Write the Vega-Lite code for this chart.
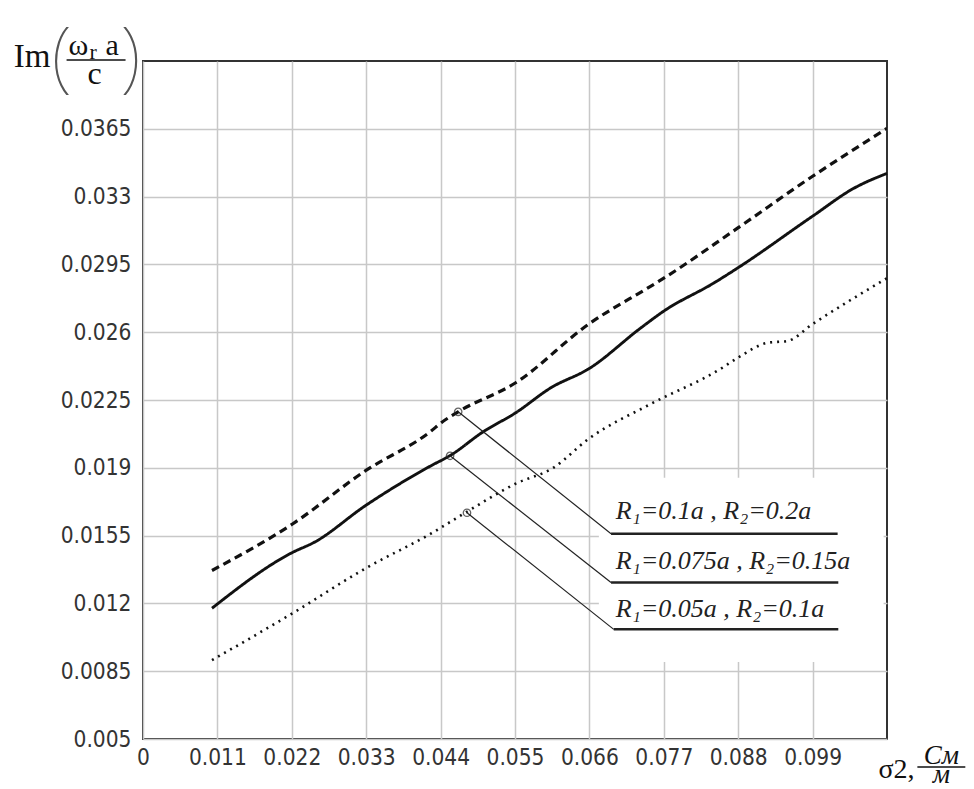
{
  "$schema": "https://vega.github.io/schema/vega-lite/v6.json",
  "autosize": {"type": "none"},
  "width": 744,
  "height": 678,
  "padding": {"left": 143, "top": 61, "right": 87, "bottom": 50},
  "background": "white",
  "config": {
    "view": {"stroke": "#333333", "strokeWidth": 2},
    "axis": {
      "labelFont": "DejaVu Sans Condensed",
      "labelFontSize": 22.5,
      "labelColor": "#333333",
      "ticks": false,
      "domain": false,
      "grid": true,
      "gridColor": "#c8c8c8",
      "gridWidth": 1.5
    }
  },
  "datasets": {
    "curves": [
      {"s": "R1=0.1a, R2=0.2a", "x": 0.0102, "y": 0.0137},
      {"s": "R1=0.1a, R2=0.2a", "x": 0.0221, "y": 0.0161},
      {"s": "R1=0.1a, R2=0.2a", "x": 0.0329, "y": 0.01885},
      {"s": "R1=0.1a, R2=0.2a", "x": 0.0426, "y": 0.0209},
      {"s": "R1=0.1a, R2=0.2a", "x": 0.0441, "y": 0.02133},
      {"s": "R1=0.1a, R2=0.2a", "x": 0.0466, "y": 0.02189},
      {"s": "R1=0.1a, R2=0.2a", "x": 0.0551, "y": 0.02339},
      {"s": "R1=0.1a, R2=0.2a", "x": 0.0659, "y": 0.02642},
      {"s": "R1=0.1a, R2=0.2a", "x": 0.0751, "y": 0.02838},
      {"s": "R1=0.1a, R2=0.2a", "x": 0.077, "y": 0.02879},
      {"s": "R1=0.1a, R2=0.2a", "x": 0.0879, "y": 0.03137},
      {"s": "R1=0.1a, R2=0.2a", "x": 0.099, "y": 0.03405},
      {"s": "R1=0.1a, R2=0.2a", "x": 0.11, "y": 0.03652},
      {"s": "R1=0.075a, R2=0.15a", "x": 0.0102, "y": 0.01175},
      {"s": "R1=0.075a, R2=0.15a", "x": 0.0221, "y": 0.01463},
      {"s": "R1=0.075a, R2=0.15a", "x": 0.0253, "y": 0.01515},
      {"s": "R1=0.075a, R2=0.15a", "x": 0.0329, "y": 0.01705},
      {"s": "R1=0.075a, R2=0.15a", "x": 0.0426, "y": 0.01911},
      {"s": "R1=0.075a, R2=0.15a", "x": 0.0454, "y": 0.01963},
      {"s": "R1=0.075a, R2=0.15a", "x": 0.0503, "y": 0.02086},
      {"s": "R1=0.075a, R2=0.15a", "x": 0.0551, "y": 0.02184},
      {"s": "R1=0.075a, R2=0.15a", "x": 0.0603, "y": 0.02313},
      {"s": "R1=0.075a, R2=0.15a", "x": 0.0659, "y": 0.02411},
      {"s": "R1=0.075a, R2=0.15a", "x": 0.0736, "y": 0.02622},
      {"s": "R1=0.075a, R2=0.15a", "x": 0.077, "y": 0.02709},
      {"s": "R1=0.075a, R2=0.15a", "x": 0.0844, "y": 0.02854},
      {"s": "R1=0.075a, R2=0.15a", "x": 0.0879, "y": 0.02931},
      {"s": "R1=0.075a, R2=0.15a", "x": 0.099, "y": 0.03199},
      {"s": "R1=0.075a, R2=0.15a", "x": 0.1051, "y": 0.03343},
      {"s": "R1=0.075a, R2=0.15a", "x": 0.11, "y": 0.0342},
      {"s": "R1=0.05a, R2=0.1a", "x": 0.0102, "y": 0.00907},
      {"s": "R1=0.05a, R2=0.1a", "x": 0.0221, "y": 0.01149},
      {"s": "R1=0.05a, R2=0.1a", "x": 0.0329, "y": 0.01381},
      {"s": "R1=0.05a, R2=0.1a", "x": 0.0426, "y": 0.01561},
      {"s": "R1=0.05a, R2=0.1a", "x": 0.0477, "y": 0.01669},
      {"s": "R1=0.05a, R2=0.1a", "x": 0.0551, "y": 0.01818},
      {"s": "R1=0.05a, R2=0.1a", "x": 0.0607, "y": 0.01901},
      {"s": "R1=0.05a, R2=0.1a", "x": 0.0659, "y": 0.0205},
      {"s": "R1=0.05a, R2=0.1a", "x": 0.0751, "y": 0.0223},
      {"s": "R1=0.05a, R2=0.1a", "x": 0.0854, "y": 0.02411},
      {"s": "R1=0.05a, R2=0.1a", "x": 0.0879, "y": 0.02467},
      {"s": "R1=0.05a, R2=0.1a", "x": 0.0923, "y": 0.02545},
      {"s": "R1=0.05a, R2=0.1a", "x": 0.0953, "y": 0.02555},
      {"s": "R1=0.05a, R2=0.1a", "x": 0.099, "y": 0.02642},
      {"s": "R1=0.05a, R2=0.1a", "x": 0.11, "y": 0.02879}
    ],
    "notes": [
      {"label": "R₁=0.1a , R₂=0.2a", "cx": 0.0466, "cy": 0.02189, "ex": 0.0692, "ey": 0.0156, "ux": 0.1027, "tx": 0.0699, "ty": 0.01638},
      {"label": "R₁=0.075a , R₂=0.15a", "cx": 0.0454, "cy": 0.01962, "ex": 0.0692, "ey": 0.01308, "ux": 0.1028, "tx": 0.0699, "ty": 0.0138},
      {"label": "R₁=0.05a , R₂=0.1a", "cx": 0.0479, "cy": 0.01668, "ex": 0.0696, "ey": 0.01066, "ux": 0.1028, "tx": 0.0699, "ty": 0.01128}
    ]
  },
  "layer": [
    {
      "data": {"values": [{}]},
      "mark": {"type": "rect", "fill": "white", "stroke": null},
      "encoding": {
        "x": {"datum": 0.0674, "type": "quantitative", "scale": {"domain": [0, 0.11], "nice": false, "zero": false}, "axis": {"values": [0, 0.011, 0.022, 0.033, 0.044, 0.055, 0.066, 0.077, 0.088, 0.099], "format": ".3~f", "title": null, "labelPadding": 7, "labelFlush": false}},
        "x2": {"datum": 0.1095},
        "y": {"datum": 0.01849, "type": "quantitative", "scale": {"domain": [0.005, 0.04], "nice": false, "zero": false}, "axis": {"values": [0.005, 0.0085, 0.012, 0.0155, 0.019, 0.0225, 0.026, 0.0295, 0.033, 0.0365], "format": ".4~f", "title": null, "labelPadding": 12}},
        "y2": {"datum": 0.00897}
      }
    },
    {
      "data": {"name": "curves"},
      "mark": {"type": "line", "color": "#111111", "strokeCap": "butt", "interpolate": "monotone"},
      "encoding": {
        "x": {"field": "x", "type": "quantitative"},
        "y": {"field": "y", "type": "quantitative"},
        "detail": {"field": "s", "type": "nominal"},
        "strokeDash": {"field": "s", "type": "nominal", "legend": null, "scale": {"domain": ["R1=0.1a, R2=0.2a", "R1=0.075a, R2=0.15a", "R1=0.05a, R2=0.1a"], "range": [[8, 5], [1, 0], [2, 5]]}},
        "strokeWidth": {"field": "s", "type": "nominal", "legend": null, "scale": {"domain": ["R1=0.1a, R2=0.2a", "R1=0.075a, R2=0.15a", "R1=0.05a, R2=0.1a"], "range": [3.2, 2.6, 2.6]}}
      }
    },
    {
      "data": {"name": "notes"},
      "mark": {"type": "rule", "color": "#222222", "strokeWidth": 1.2},
      "encoding": {
        "x": {"field": "cx", "type": "quantitative"},
        "y": {"field": "cy", "type": "quantitative"},
        "x2": {"field": "ex"},
        "y2": {"field": "ey"}
      }
    },
    {
      "data": {"name": "notes"},
      "mark": {"type": "rule", "color": "#222222", "strokeWidth": 2.5},
      "encoding": {
        "x": {"field": "ex", "type": "quantitative"},
        "x2": {"field": "ux"},
        "y": {"field": "ey", "type": "quantitative"}
      }
    },
    {
      "data": {"name": "notes"},
      "mark": {"type": "point", "shape": "circle", "filled": false, "size": 55, "color": "#222222", "strokeWidth": 1.3},
      "encoding": {
        "x": {"field": "cx", "type": "quantitative"},
        "y": {"field": "cy", "type": "quantitative"}
      }
    },
    {
      "data": {"name": "notes"},
      "mark": {"type": "text", "align": "left", "baseline": "alphabetic", "font": "Liberation Serif", "fontStyle": "italic", "fontSize": 26, "color": "#222222"},
      "encoding": {
        "x": {"field": "tx", "type": "quantitative"},
        "y": {"field": "ty", "type": "quantitative"},
        "text": {"field": "label"}
      }
    },
    {
      "data": {"values": [{}]},
      "mark": {"type": "text", "align": "left", "baseline": "alphabetic", "font": "Liberation Serif", "fontSize": 33, "color": "#111111"},
      "encoding": {"x": {"datum": -0.01912, "type": "quantitative"}, "y": {"datum": 0.03969, "type": "quantitative"}, "text": {"value": "Im"}}
    },
    {
      "data": {"values": [{}]},
      "mark": {"type": "text", "align": "center", "baseline": "alphabetic", "font": "Noto Sans", "fontWeight": 100, "fontSize": 78, "color": "#555555"},
      "encoding": {"x": {"datum": -0.01203, "type": "quantitative"}, "y": {"datum": 0.03887, "type": "quantitative"}, "text": {"value": "("}}
    },
    {
      "data": {"values": [{}]},
      "mark": {"type": "text", "align": "center", "baseline": "alphabetic", "font": "Noto Sans", "fontWeight": 100, "fontSize": 78, "color": "#555555"},
      "encoding": {"x": {"datum": -0.00184, "type": "quantitative"}, "y": {"datum": 0.03887, "type": "quantitative"}, "text": {"value": ")"}}
    },
    {
      "data": {"values": [{}]},
      "mark": {"type": "text", "align": "left", "baseline": "alphabetic", "font": "Liberation Serif", "fontSize": 30, "color": "#111111"},
      "encoding": {"x": {"datum": -0.011, "type": "quantitative"}, "y": {"datum": 0.04031, "type": "quantitative"}, "text": {"value": "ω"}}
    },
    {
      "data": {"values": [{}]},
      "mark": {"type": "text", "align": "left", "baseline": "alphabetic", "font": "Liberation Serif", "fontSize": 22, "color": "#111111"},
      "encoding": {"x": {"datum": -0.0079, "type": "quantitative"}, "y": {"datum": 0.0401, "type": "quantitative"}, "text": {"value": "r"}}
    },
    {
      "data": {"values": [{}]},
      "mark": {"type": "text", "align": "left", "baseline": "alphabetic", "font": "Liberation Serif", "fontSize": 30, "color": "#111111"},
      "encoding": {"x": {"datum": -0.00554, "type": "quantitative"}, "y": {"datum": 0.04031, "type": "quantitative"}, "text": {"value": "a"}}
    },
    {
      "data": {"values": [{}]},
      "mark": {"type": "rule", "color": "#111111", "strokeWidth": 1.5},
      "encoding": {"x": {"datum": -0.0113, "type": "quantitative"}, "x2": {"datum": -0.00258}, "y": {"datum": 0.04005, "type": "quantitative"}}
    },
    {
      "data": {"values": [{}]},
      "mark": {"type": "text", "align": "center", "baseline": "alphabetic", "font": "Liberation Serif", "fontSize": 32, "color": "#111111"},
      "encoding": {"x": {"datum": -0.00716, "type": "quantitative"}, "y": {"datum": 0.03882, "type": "quantitative"}, "text": {"value": "c"}}
    },
    {
      "data": {"values": [{}]},
      "mark": {"type": "text", "align": "left", "baseline": "alphabetic", "font": "Liberation Serif", "fontSize": 28, "color": "#111111"},
      "encoding": {"x": {"datum": 0.10874, "type": "quantitative"}, "y": {"datum": 0.002993, "type": "quantitative"}, "text": {"value": "σ2,"}}
    },
    {
      "data": {"values": [{}]},
      "mark": {"type": "text", "align": "center", "baseline": "alphabetic", "font": "Liberation Serif", "fontStyle": "italic", "fontSize": 27, "color": "#111111"},
      "encoding": {"x": {"datum": 0.11804, "type": "quantitative"}, "y": {"datum": 0.00371, "type": "quantitative"}, "text": {"value": "См"}}
    },
    {
      "data": {"values": [{}]},
      "mark": {"type": "rule", "color": "#111111", "strokeWidth": 1.5},
      "encoding": {"x": {"datum": 0.11449, "type": "quantitative"}, "x2": {"datum": 0.12158}, "y": {"datum": 0.00356, "type": "quantitative"}}
    },
    {
      "data": {"values": [{}]},
      "mark": {"type": "text", "align": "center", "baseline": "alphabetic", "font": "Liberation Serif", "fontStyle": "italic", "fontSize": 27, "color": "#111111"},
      "encoding": {"x": {"datum": 0.11804, "type": "quantitative"}, "y": {"datum": 0.00275, "type": "quantitative"}, "text": {"value": "м"}}
    }
  ]
}
